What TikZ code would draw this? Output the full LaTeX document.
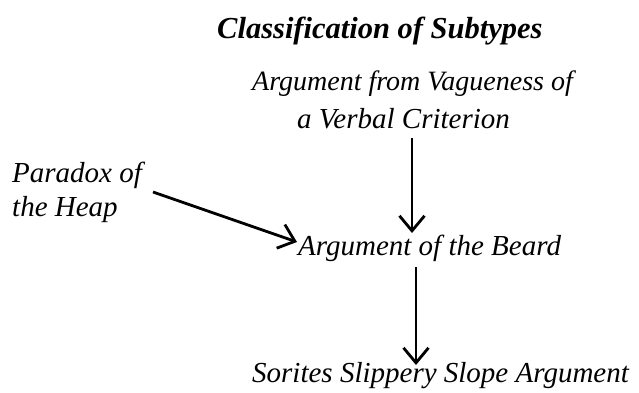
\documentclass[tikz,border=0pt]{standalone}
\usepackage{fontspec}
\setmainfont{Liberation Serif}
\usetikzlibrary{arrows.meta}
\begin{document}
\begin{tikzpicture}[x=1pt,y=-1pt,
  lbl/.style={inner sep=0pt, anchor=base west, font=\itshape\fontsize{29}{32}\selectfont},
  conn/.style={line width=2.8pt, -{Straight Barb[length=15pt,width=25pt,line width=2.8pt]}}]
\useasboundingbox (0,0) rectangle (639,392);
\node[inner sep=0pt, anchor=base west, font=\bfseries\itshape\fontsize{30.5}{33}\selectfont] (title) at (217,38) {Classification of Subtypes};
\node[lbl, font=\itshape\fontsize{28}{31}\selectfont] (vag1) at (252,90) {Argument from Vagueness of};
\node[lbl] (vag2) at (297,128) {a Verbal Criterion};
\node[lbl] (par1) at (12,182) {Paradox of};
\node[lbl] (par2) at (12,216) {the Heap};
\node[lbl] (beard) at (298,255) {Argument of the Beard};
\node[lbl] (sor) at (252,382) {Sorites Slippery Slope Argument};
\coordinate (a1) at (412,138);
\coordinate (a1e) at (412,233);
\draw[conn] (a1) -- (a1e);
\coordinate (b1) at (153,192);
\coordinate (b2) at (297,242);
\draw[conn] (b1) -- (b2);
\coordinate (c1) at (416,267);
\coordinate (c2) at (416,365);
\draw[conn] (c1) -- (c2);
\end{tikzpicture}
\end{document}
